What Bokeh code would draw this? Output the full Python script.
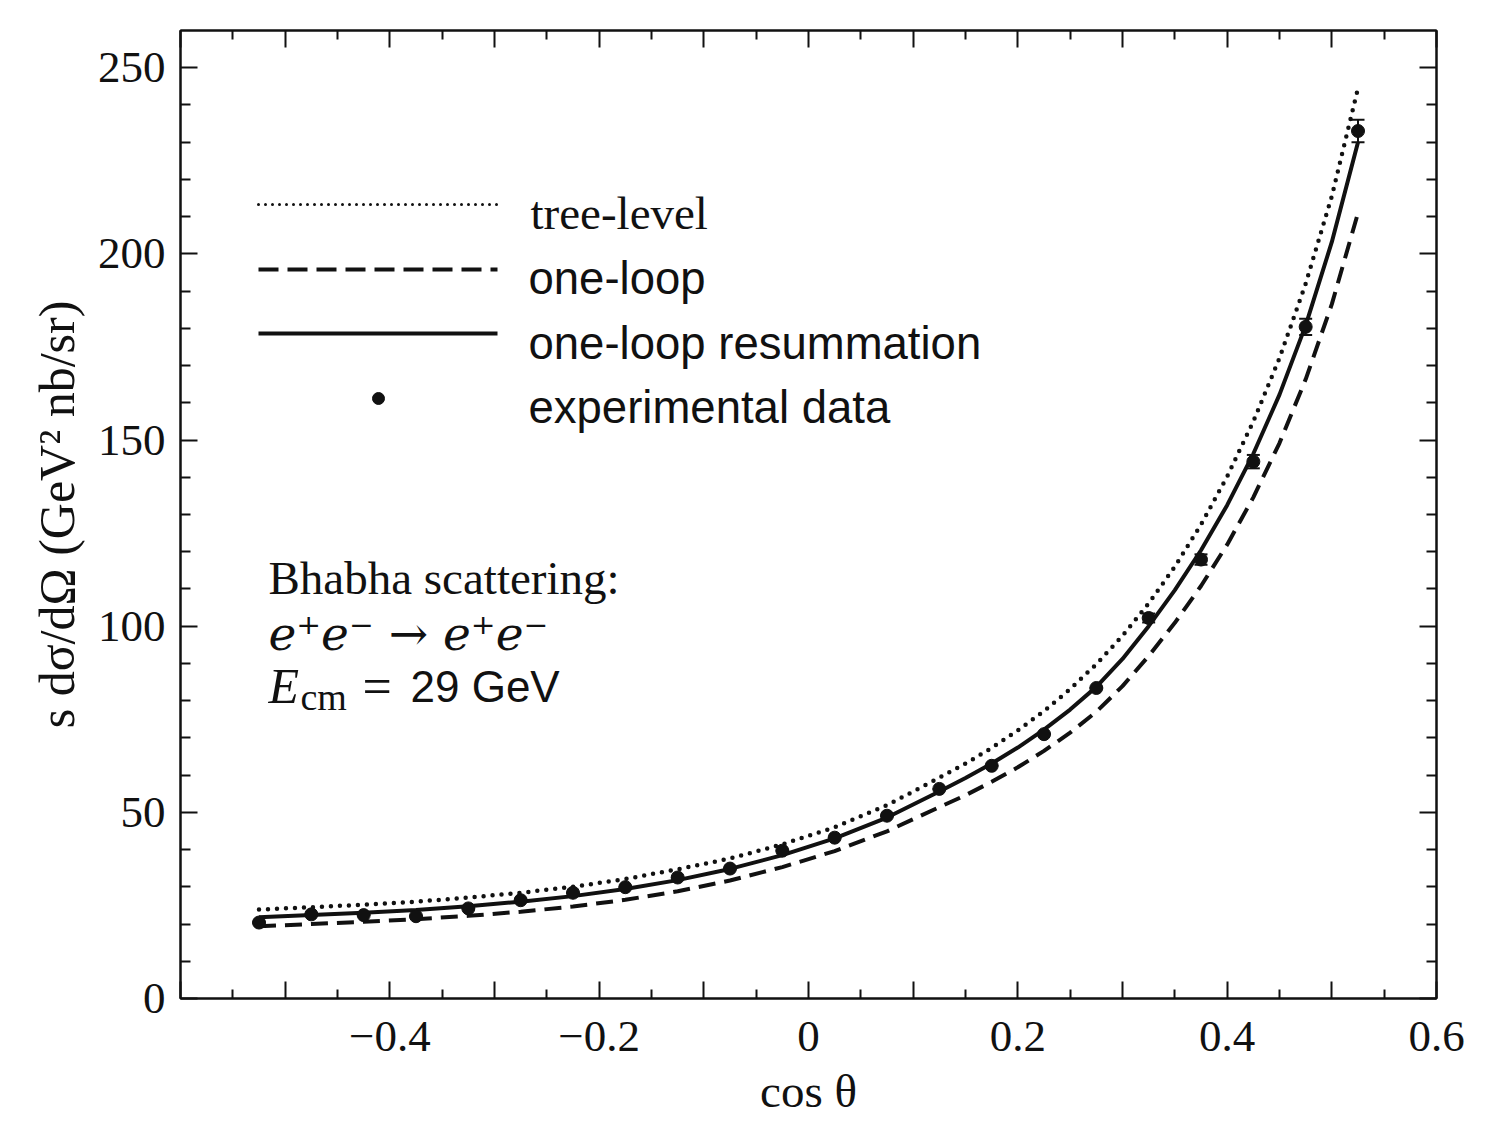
from bokeh.plotting import figure
from bokeh.models import (ColumnDataSource, LinearAxis, FixedTicker, CustomJSTickFormatter,
                          Range1d, Label, Whisker, TeeHead)
from bokeh.embed import file_html
from bokeh.resources import INLINE

# ---------------- data ----------------
cos_theta = [-0.525, -0.475, -0.425, -0.375, -0.325, -0.275, -0.225, -0.175, -0.125, -0.075, -0.025,
             0.025, 0.075, 0.125, 0.175, 0.225, 0.275, 0.325, 0.375, 0.425, 0.475, 0.525]
exp_data = [20.4, 22.6, 22.4, 22.1, 24.2, 26.4, 28.4, 29.9, 32.5, 34.9, 39.7,
            43.2, 49.1, 56.3, 62.5, 71.0, 83.4, 102.2, 117.9, 144.2, 180.4, 233.0]
exp_err = [0.0, 0.0, 0.0, 0.0, 0.0, 0.0, 0.0, 0.0, 0.0, 0.0, 0.0,
           0.0, 0.0, 0.0, 0.0, 0.0, 0.0, 1.2, 1.4, 1.8, 2.2, 3.0]

curve_x = [-0.525, -0.475, -0.425, -0.375, -0.325, -0.275, -0.225, -0.175, -0.125, -0.075, -0.025,
           0.025, 0.075, 0.125, 0.15, 0.175, 0.2, 0.225, 0.25, 0.275, 0.3, 0.325, 0.35, 0.375,
           0.4, 0.425, 0.45, 0.475, 0.5, 0.525]
tree_level = [23.9, 24.5, 25.2, 26.0, 27.1, 28.4, 30.0, 32.1, 34.7, 37.6, 41.4,
              46.0, 51.9, 59.3, 63.1, 67.3, 72.0, 77.2, 83.1, 89.8, 97.4, 106.1, 116.0, 127.3,
              140.2, 155.0, 172.0, 192.0, 215.5, 244.5]
one_loop = [19.4, 20.0, 20.6, 21.3, 22.2, 23.3, 24.7, 26.5, 28.8, 31.7, 35.3,
            39.6, 44.9, 51.4, 54.6, 58.2, 62.1, 66.5, 71.4, 77.0, 83.9, 92.0, 100.9, 110.8,
            121.9, 134.6, 149.2, 166.3, 186.5, 211.0]
resummation = [21.8, 22.4, 23.0, 23.8, 24.8, 26.0, 27.5, 29.4, 31.8, 34.8, 38.5,
               43.0, 48.6, 55.6, 59.2, 63.1, 67.4, 72.2, 77.6, 83.7, 91.2, 100.0, 109.7, 120.4,
               132.5, 146.3, 162.2, 180.8, 203.2, 230.0]

x_ticks = [-0.6, -0.5, -0.4, -0.3, -0.2, -0.1, 0.0, 0.1, 0.2, 0.3, 0.4, 0.5, 0.6]
x_minor = [-0.55, -0.45, -0.35, -0.25, -0.15, -0.05, 0.05, 0.15, 0.25, 0.35, 0.45, 0.55]
y_ticks = [0, 50, 100, 150, 200, 250]
y_minor = [10, 20, 30, 40, 60, 70, 80, 90, 110, 120, 130, 140, 160, 170, 180, 190,
           210, 220, 230, 240]

legend_labels = ["tree-level", "one-loop", "one-loop resummation", "experimental data"]

INK = "#111111"


# helper: reference pixel position -> data coordinates (for annotations only)
def ax(px):
    return (px - 808.0) / 1046.67


def ay(py):
    return (998.0 - py) / 3.723


p = figure(width=1491, height=1130, x_range=Range1d(-0.6, 0.6), y_range=Range1d(0, 260),
           output_backend="svg", toolbar_location=None,
           min_border_left=180, min_border_right=55, min_border_top=30, min_border_bottom=132,
           x_axis_label="cos θ", y_axis_label="s dσ/dΩ (GeV² nb/sr)",
           background_fill_color="white", border_fill_color="white")
p.outline_line_color = INK
p.outline_line_width = 2
p.xgrid.visible = False
p.ygrid.visible = False

xt = FixedTicker(ticks=x_ticks, minor_ticks=x_minor)
yt = FixedTicker(ticks=y_ticks, minor_ticks=y_minor)

x_fmt = CustomJSTickFormatter(code="""
const k = Math.round(tick * 10);
if (k % 2 !== 0 || k === -6) return "";
if (k === 0) return "0";
return (tick < 0 ? "\u2212" : "") + Math.abs(tick).toFixed(1);
""")
blank = CustomJSTickFormatter(code="return '';")


def style_axis(a, minor_len):
    a.axis_line_color = INK
    a.axis_line_width = 2
    a.major_tick_line_color = INK
    a.major_tick_line_width = 2
    a.minor_tick_line_color = INK
    a.minor_tick_line_width = 2
    a.major_tick_in = 17
    a.major_tick_out = 0
    a.minor_tick_in = minor_len
    a.minor_tick_out = 0
    a.major_label_text_font = "Liberation Serif"
    a.major_label_text_font_size = "45px"
    a.major_label_text_color = INK
    a.axis_label_text_font = "Liberation Serif"
    a.axis_label_text_font_size = "47px"
    a.axis_label_text_font_style = "normal"
    a.axis_label_text_color = INK


xa = p.xaxis[0]
xa.ticker = xt
xa.formatter = x_fmt
style_axis(xa, 9)
xa.major_label_standoff = 23
xa.axis_label_standoff = 11

ya = p.yaxis[0]
ya.ticker = yt
style_axis(ya, 10)
ya.axis_label_text_font_size = "50px"
ya.major_label_standoff = 15
ya.axis_label_standoff = 10

top = LinearAxis(ticker=xt, formatter=blank)
style_axis(top, 9)
top.major_label_text_font_size = "1px"
top.major_label_standoff = 0
p.add_layout(top, "above")

right = LinearAxis(ticker=yt, formatter=blank)
style_axis(right, 10)
right.major_label_text_font_size = "1px"
right.major_label_standoff = 0
p.add_layout(right, "right")

# ---------------- curves ----------------
csrc = ColumnDataSource(dict(x=curve_x, tree=tree_level, one=one_loop, res=resummation))
p.line("x", "tree", source=csrc, line_color=INK, line_width=4.5, line_dash="0 9", line_cap="round")
p.line("x", "one", source=csrc, line_color=INK, line_width=4, line_dash="17 9")
p.line("x", "res", source=csrc, line_color=INK, line_width=4)

# ---------------- data points ----------------
dsrc = ColumnDataSource(dict(x=cos_theta, y=exp_data,
                             lo=[v - e for v, e in zip(exp_data, exp_err)],
                             hi=[v + e for v, e in zip(exp_data, exp_err)]))
wh = Whisker(base="x", lower="lo", upper="hi", source=dsrc, line_color=INK, line_width=2,
             upper_head=TeeHead(size=13, line_color=INK, line_width=2),
             lower_head=TeeHead(size=13, line_color=INK, line_width=2))
p.add_layout(wh)
p.scatter("x", "y", source=dsrc, size=13, fill_color=INK, line_color=INK)

# ---------------- legend (drawn by hand) ----------------
lx = [ax(258), ax(497)]
p.line(lx, [ay(204)] * 2, line_color=INK, line_width=3, line_dash="0 7", line_cap="round")
p.line(lx, [ay(269)] * 2, line_color=INK, line_width=4, line_dash="20 9")
p.line(lx, [ay(333)] * 2, line_color=INK, line_width=4)
p.scatter([ax(378)], [ay(398)], size=12, fill_color=INK, line_color=INK)

p.add_layout(Label(x=ax(530), y=ay(213), text=legend_labels[0], text_font="Liberation Serif",
                   text_font_size="47px", text_color=INK, text_baseline="alphabetic"))
for i, yy in enumerate([278, 343, 407]):
    p.add_layout(Label(x=ax(528), y=ay(yy), text=legend_labels[i + 1],
                       text_font="Liberation Sans", text_font_size="45.5px", text_color=INK,
                       text_baseline="alphabetic"))

# ---------------- annotation ----------------
p.add_layout(Label(x=ax(268), y=ay(578), text="Bhabha scattering:", text_font="Liberation Serif",
                   text_font_size="47px", text_color=INK, text_baseline="alphabetic"))
p.add_layout(Label(x=ax(268), y=ay(633), text="e⁺e⁻ → e⁺e⁻", text_font="DejaVu Serif",
                   text_font_style="italic", text_font_size="47px", text_color=INK,
                   text_baseline="alphabetic"))
p.add_layout(Label(x=ax(268), y=ay(686), text="E", text_font="Liberation Serif",
                   text_font_style="italic", text_font_size="50px", text_color=INK,
                   text_baseline="alphabetic"))
p.add_layout(Label(x=ax(300), y=ay(697), text="cm", text_font="Liberation Serif",
                   text_font_size="38px", text_color=INK, text_baseline="alphabetic"))
p.add_layout(Label(x=ax(362), y=ay(686), text="=", text_font="Liberation Serif",
                   text_font_size="52px", text_color=INK, text_baseline="alphabetic"))
p.add_layout(Label(x=ax(410), y=ay(686), text="29 GeV", text_font="Liberation Sans",
                   text_font_size="44px", text_color=INK, text_baseline="alphabetic"))

html = file_html(p, INLINE)
with open("out.html", "w") as f:
    f.write(html)
